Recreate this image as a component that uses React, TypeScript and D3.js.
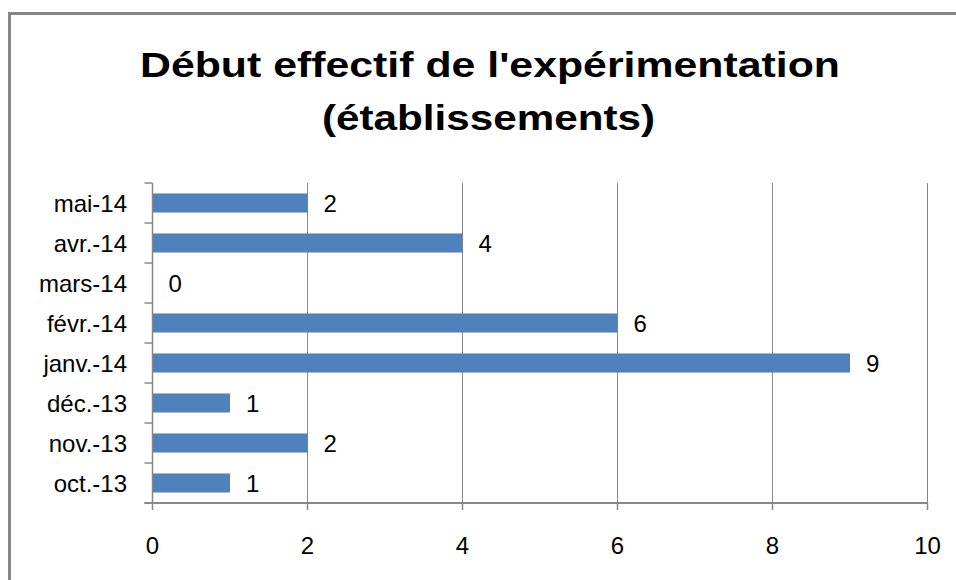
import React from "react";
import * as d3 from "d3";

const categories = ["oct.-13", "nov.-13", "déc.-13", "janv.-14", "févr.-14", "mars-14", "avr.-14", "mai-14"];
const values = [1, 2, 1, 9, 6, 0, 4, 2];
const xTicks = [0, 2, 4, 6, 8, 10];
const titleLines = ["Début effectif de l'expérimentation", "(établissements)"];

const W = 956;
const H = 580;
const plot = { left: 152.5, right: 927.5, top: 183, bottom: 503 };
const GRAY = "#878787";
const BAR = "#4f81bd";
const FONT = "'Liberation Sans', Arial, sans-serif";
const LABEL_SIZE = 24;

export default function App() {
  const x = d3.scaleLinear().domain([0, 10]).range([plot.left, plot.right]);
  const yDomain = [...categories].reverse();
  const y = d3
    .scaleBand<string>()
    .domain(yDomain)
    .range([plot.top, plot.bottom])
    .paddingInner(0.524)
    .paddingOuter(0.262);
  const step = y.step();

  return (
    <svg
      width={W}
      height={H}
      style={{ position: "fixed", left: 0, top: 0, background: "#fff" }}
      fontFamily={FONT}
    >
      <rect x={0} y={0} width={W} height={H} fill="#fff" />
      <rect x={9.5} y={13.5} width={1000} height={700} fill="none" stroke={GRAY} strokeWidth={3} />

      {/* title */}
      <text x={490} y={77} textAnchor="middle" fontWeight="bold" fontSize={35} textLength={700} lengthAdjust="spacingAndGlyphs" fill="#000">
        {titleLines[0]}
      </text>
      <text x={488.5} y={130} textAnchor="middle" fontWeight="bold" fontSize={35} textLength={333} lengthAdjust="spacingAndGlyphs" fill="#000">
        {titleLines[1]}
      </text>

      {/* vertical gridlines */}
      {xTicks.filter((t) => t > 0).map((t) => (
        <line key={"g" + t} x1={x(t)} x2={x(t)} y1={plot.top} y2={plot.bottom} stroke={GRAY} strokeWidth={1} />
      ))}

      {/* bars */}
      {categories.map((c, i) => (
        <rect
          key={"b" + c}
          x={x(0)}
          y={y(c)!}
          width={x(values[i]) - x(0)}
          height={y.bandwidth()}
          fill={BAR}
        />
      ))}

      {/* data labels */}
      {categories.map((c, i) => (
        <text
          key={"l" + c}
          x={x(values[i]) + 16}
          y={y(c)! + y.bandwidth() / 2 + 9}
          fontSize={LABEL_SIZE}
          fill="#000"
        >
          {values[i]}
        </text>
      ))}

      {/* y axis */}
      <line x1={plot.left} x2={plot.left} y1={plot.top} y2={plot.bottom} stroke={GRAY} strokeWidth={1.5} />
      {d3.range(categories.length + 1).map((k) => (
        <line
          key={"yt" + k}
          x1={plot.left - 8}
          x2={plot.left}
          y1={plot.top + k * step}
          y2={plot.top + k * step}
          stroke={GRAY}
          strokeWidth={1.5}
        />
      ))}
      {categories.map((c) => (
        <text
          key={"yl" + c}
          x={127}
          y={y(c)! + y.bandwidth() / 2 + 9}
          textAnchor="end"
          fontSize={LABEL_SIZE}
          fill="#000"
        >
          {c}
        </text>
      ))}

      {/* x axis */}
      <line x1={plot.left - 8} x2={plot.right} y1={plot.bottom} y2={plot.bottom} stroke={GRAY} strokeWidth={2} />
      {xTicks.map((t) => (
        <line key={"xt" + t} x1={x(t)} x2={x(t)} y1={plot.bottom} y2={plot.bottom + 7} stroke={GRAY} strokeWidth={1.5} />
      ))}
      {xTicks.map((t) => (
        <text key={"xl" + t} x={x(t)} y={554} textAnchor="middle" fontSize={LABEL_SIZE} fill="#000">
          {t}
        </text>
      ))}
    </svg>
  );
}
